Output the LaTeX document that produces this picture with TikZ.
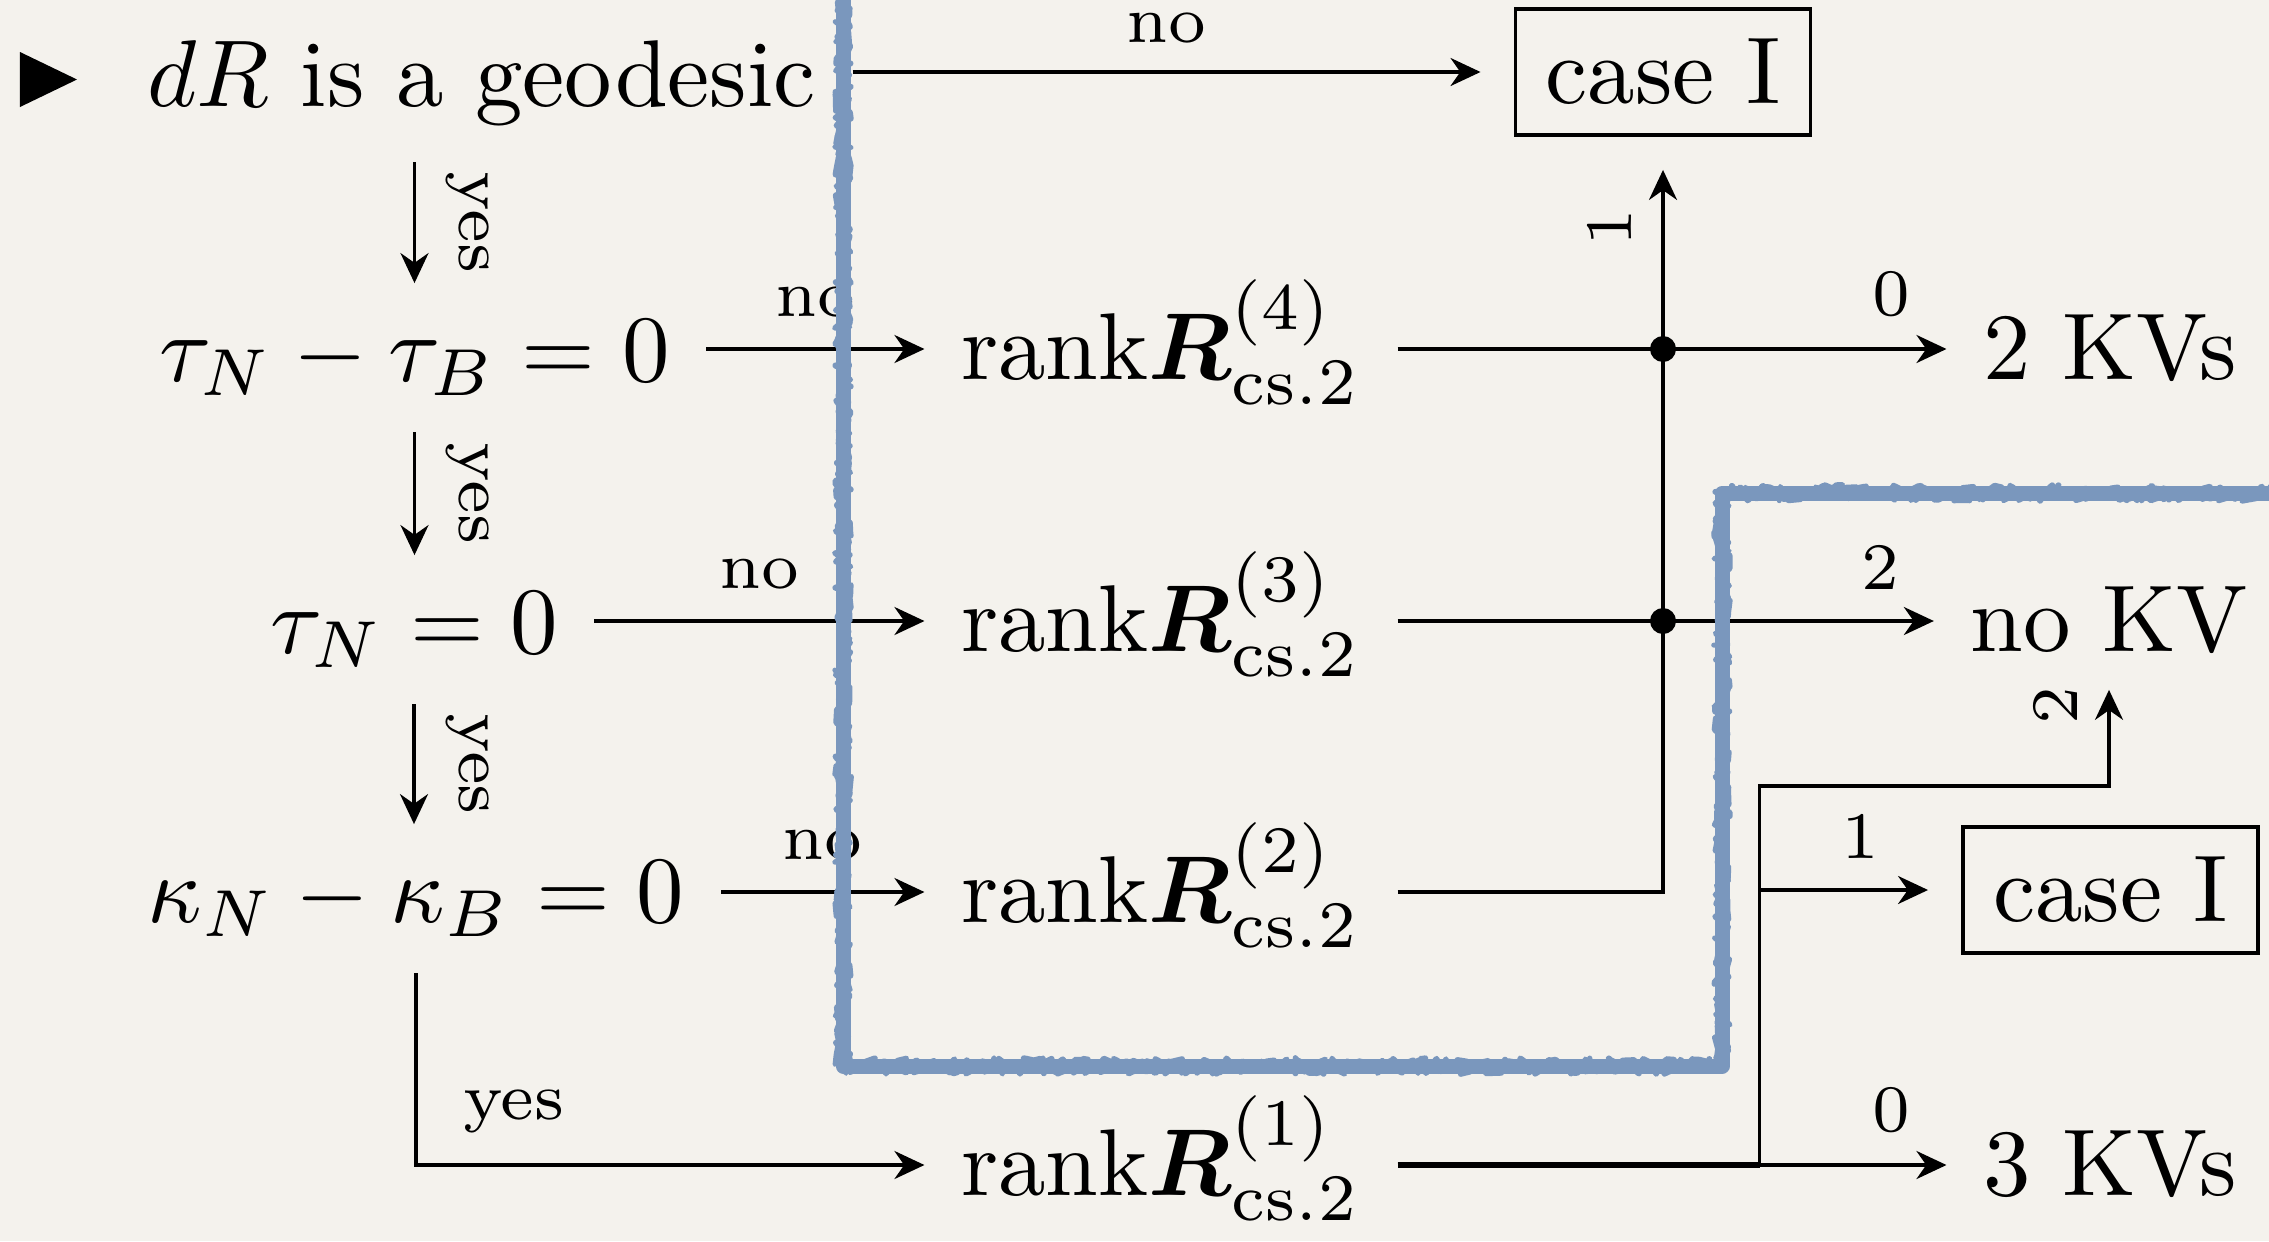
\documentclass[tikz,border=0pt]{standalone}
\usepackage{amsmath}
\usepackage{graphicx}
\usepackage{tikz}
\usetikzlibrary{positioning, arrows.meta, decorations.pathmorphing}

\definecolor{paper}{HTML}{F4F2ED}
\definecolor{pencilblue}{HTML}{7A97BD}

% slide text is a 10pt picture blown up
\newcommand{\bigtext}[1]{\scalebox{2.7}{#1}}
\newcommand{\labtext}[1]{\scalebox{2.7}{\scriptsize #1}}

\begin{document}
\begin{tikzpicture}[
    line width=1pt,
    >={Stealth[length=0.3cm, width=0.28cm]},
    txt/.style={
        anchor=base,
        inner sep=0.35cm
    },
    rank/.style={
        txt,
        text height=0.95cm,
        text depth=0.35cm
    },
    casebox/.style={
        draw,
        rectangle,
        inner sep=0.3cm,
        outer sep=0.35cm
    },
    lbl/.style={
        above,
        inner sep=0.3cm
    },
    yeslbl/.style={lbl, rotate=-90},
    uplbl/.style={lbl, rotate=90}
]
    \useasboundingbox (0,0) rectangle (22.69,-12.41);
    \fill[paper] (0,0) rectangle (22.69,-12.41);
    \pgfmathsetseed{7}

    % bullet
    \fill (0.20,-0.52) -- (0.20,-1.07) -- (0.77,-0.795) -- cycle;

    % conditions
    \node[txt] (geo) at (4.815,-1.06) {\bigtext{$dR$ is a geodesic}};
    \node[txt] (tnb) at (4.145,-3.81) {\bigtext{$\tau_N - \tau_B = 0$}};
    \node[txt] (tn)  at (4.14,-6.53)  {\bigtext{$\tau_N = 0$}};
    \node[txt] (kap) at (4.16,-9.22)  {\bigtext{$\kappa_N - \kappa_B = 0$}};

    % ranks
    \node[rank] (rk4) at (11.61,-3.79)  {\bigtext{rank$\boldsymbol{R}^{(4)}_{\mathrm{cs.2}}$}};
    \node[rank] (rk3) at (11.61,-6.51)  {\bigtext{rank$\boldsymbol{R}^{(3)}_{\mathrm{cs.2}}$}};
    \node[rank] (rk2) at (11.61,-9.22)  {\bigtext{rank$\boldsymbol{R}^{(2)}_{\mathrm{cs.2}}$}};
    \node[rank] (rk1) at (11.61,-11.95) {\bigtext{rank$\boldsymbol{R}^{(1)}_{\mathrm{cs.2}}$}};

    % results
    \node[casebox] (case1) at (16.63,-0.72) {\bigtext{case I}};
    \node[casebox] (case2) at (21.105,-8.90) {\bigtext{case I}};
    \node[txt] (kv2)  at (21.10,-3.79)  {\bigtext{2 KVs}};
    \node[txt] (nokv) at (21.09,-6.51)  {\bigtext{no KV}};
    \node[txt] (kv3)  at (21.10,-11.95) {\bigtext{3 KVs}};

    % yes / no
    \draw[->] (geo.east |- case1) -- node[lbl, yshift=-0.03cm]{\labtext{no}} (case1.west);
    \draw[->] (geo.south -| tnb.north) -- node[yeslbl]{\labtext{yes}} (tnb.north);
    \draw[->] (tnb.south) -- node[yeslbl]{\labtext{yes}} (tnb.south |- tn.north);
    \draw[->] (tn.south) -- node[yeslbl]{\labtext{yes}} (tn.south |- kap.north);
    \draw[->] (kap.south) |- node[lbl, above right, pos=0.515]{\labtext{yes}} (rk1.west);
    \draw[->] (tnb.east |- rk4) -- node[lbl]{\labtext{no}} (rk4.west);
    \draw[->] (tn.east |- rk3) -- node[lbl]{\labtext{no}} (rk3.west);
    \draw[->] (kap.east |- rk2) -- node[lbl]{\labtext{no}} (rk2.west);

    % ranks to results
    \draw[->] (rk4.east) -- node[lbl, pos=0.9]{\labtext{0}} (rk4.east -| kv2.west);
    \draw[->] (rk3.east) -- node[lbl, pos=0.9]{\labtext{2}} (rk3.east -| nokv.west);
    \draw[->] (rk2.east) -| node[uplbl, pos=0.96]{\labtext{1}} (case1.south);
    \fill (case1.south |- rk4) circle (0.13);
    \fill (case1.south |- rk3) circle (0.13);

    \draw[->] (rk1.east) -- node[lbl, pos=0.9]{\labtext{0}} (rk1.east -| kv3.west);
    \path (rk1.east) ++(3.62,0) coordinate (br);
    \draw[line width=1.6pt] (rk1.east) -- (br);
    \draw[->] (br) |- node[lbl, pos=0.8]{\labtext{1}} (case2.west);
    \draw[->] (br) -- ++(0,3.79) -| node[uplbl, pos=0.92]{\labtext{2}} (nokv.south);

    % pencil frame
    \draw[pencilblue, line width=0.15cm, line join=round]
        (8.43,0.3) -- (8.43,-10.66) -- (17.22,-10.66) -- (17.22,-4.93) -- (23,-4.93);
    \draw[pencilblue, line width=0.06cm, line join=round,
        decorate, decoration={random steps, segment length=1pt, amplitude=2.2pt}]
        (8.43,0.3) -- (8.43,-10.66) -- (17.22,-10.66) -- (17.22,-4.93) -- (23,-4.93);
    \draw[pencilblue, line width=0.05cm, line join=round,
        decorate, decoration={random steps, segment length=1.5pt, amplitude=2.4pt}]
        (8.43,0.3) -- (8.43,-10.66) -- (17.22,-10.66) -- (17.22,-4.93) -- (23,-4.93);
\end{tikzpicture}
\end{document}
